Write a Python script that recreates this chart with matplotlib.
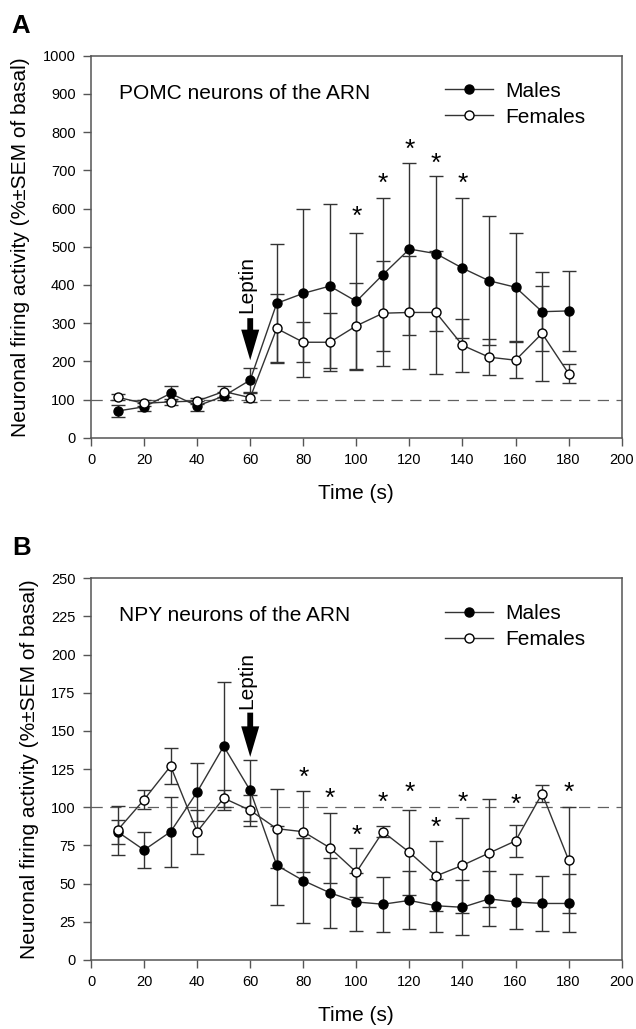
import matplotlib
matplotlib.use('Agg')
import matplotlib.pyplot as plt

plt.rcParams['font.family'] = ['Liberation Sans', 'DejaVu Sans']

# data
time = [10, 20, 30, 40, 50, 60, 70, 80, 90, 100, 110, 120, 130, 140, 150, 160, 170, 180]

pomc_males = [70, 81, 116, 83, 109, 151, 352, 378, 397, 357, 427, 494, 482, 444, 411, 394, 330, 332]
pomc_males_sem = [15, 10, 20, 13, 10, 31, 155, 220, 215, 180, 200, 224, 203, 183, 169, 141, 103, 104]
pomc_females = [106, 90, 94, 96, 121, 105, 286, 250, 250, 293, 326, 328, 328, 242, 211, 203, 273, 168]
pomc_females_sem = [8, 8, 8, 8, 15, 12, 90, 53, 76, 112, 137, 148, 161, 70, 48, 47, 125, 24]
pomc_star_x = [100, 110, 120, 130, 140]
pomc_star_y = [600, 687, 775, 740, 687]

npy_males = [84, 72, 84, 110, 140, 111, 62, 52, 44, 38, 36.5, 39, 35.5, 34.5, 40, 38, 37, 37]
npy_males_sem = [8, 12, 23, 19, 42, 20, 26, 28, 23, 19, 18, 19, 17.5, 18, 18, 18, 18, 19]
npy_females = [85, 105, 127, 84, 106, 98, 86, 84, 73.5, 57.5, 84, 70.5, 55, 62, 70, 78, 109, 65.5]
npy_females_sem = [16, 6, 12, 14.5, 5.5, 10, 26, 26.5, 23, 16, 3.5, 28, 23, 31, 35.5, 10.5, 5.5, 34.5]
npy_star_x = [80, 90, 100, 110, 120, 130, 140, 160, 180]
npy_star_y = [125, 111, 87, 108, 115, 92, 108.5, 107, 115]

LINE = '#333333'
SPINE = '#555555'


def panel(ax, males, males_sem, females, females_sem, star_x, star_y,
          ymax, ystep, title, arrow, text_y):
    ax.errorbar(time, males, yerr=males_sem, fmt='none', ecolor=LINE,
                elinewidth=1.0, capsize=5, capthick=1.0, zorder=2)
    ax.errorbar(time, females, yerr=females_sem, fmt='none', ecolor=LINE,
                elinewidth=1.0, capsize=5, capthick=1.0, zorder=2)
    ax.plot(time, males, color=LINE, lw=1.0, marker='o', ms=6.5,
            mfc='black', mec='black', label='Males', zorder=3)
    ax.plot(time, females, color=LINE, lw=1.0, marker='o', ms=6.5,
            mfc='white', mec='black', mew=1.0, label='Females', zorder=4)
    ax.axhline(100, color='#606060', lw=0.9, dashes=(9, 6), zorder=1)

    for x, y in zip(star_x, star_y):
        ax.annotate('*', xy=(x, y), xytext=(0, -11), textcoords='offset points',
                    ha='center', va='baseline', fontsize=19)

    # leptin arrow
    ax.annotate('', xy=(60, arrow[1]), xytext=(60, arrow[0]),
                arrowprops=dict(arrowstyle='simple,head_length=2.2,head_width=1.3,tail_width=0.42',
                                color='black', lw=0, shrinkA=0, shrinkB=0, mutation_scale=10))
    ax.text(58.7, text_y, 'Leptin', rotation=90, ha='center', va='center', fontsize=15)

    ax.text(0.053, 0.902, title, transform=ax.transAxes, ha='left', va='center', fontsize=15)

    ax.legend(loc='upper left', bbox_to_anchor=(0.667, 0.932), frameon=False,
              fontsize=15, handlelength=2.3, handletextpad=0.6, labelspacing=0.33,
              borderpad=0, borderaxespad=0)

    ax.set_xlim(0, 200)
    ax.set_ylim(0, ymax)
    ax.set_xticks(range(0, 201, 20))
    ax.set_yticks([ystep * i for i in range(int(ymax / ystep) + 1)])
    ax.tick_params(direction='out', length=6, width=1.0, color=SPINE,
                   labelsize=10.5, pad=5, top=False, right=False)
    for s in ax.spines.values():
        s.set_color(SPINE)
        s.set_linewidth(1.1)
    ax.set_xlabel('Time (s)', fontsize=15, labelpad=12)
    ax.set_ylabel('Neuronal firing activity (%\u00b1SEM of basal)', fontsize=15, labelpad=9)


fig = plt.figure(figsize=(6.36, 10.29), dpi=100)
axA = fig.add_axes([0.1431, 0.5746, 0.8344, 0.3712])
axB = fig.add_axes([0.1431, 0.0671, 0.8344, 0.3709])

panel(axA, pomc_males, pomc_males_sem, pomc_females, pomc_females_sem,
      pomc_star_x, pomc_star_y, 1000, 100, 'POMC neurons of the ARN', (313, 203), 400)
panel(axB, npy_males, npy_males_sem, npy_females, npy_females_sem,
      npy_star_x, npy_star_y, 250, 25, 'NPY neurons of the ARN', (162, 133), 183)

fig.text(11 / 636, 1 - 33 / 1029, 'A', fontsize=18.5, fontweight='bold', ha='left', va='baseline')
fig.text(12 / 636, 1 - 555 / 1029, 'B', fontsize=18.5, fontweight='bold', ha='left', va='baseline')

fig.savefig('out.png', dpi=100)
